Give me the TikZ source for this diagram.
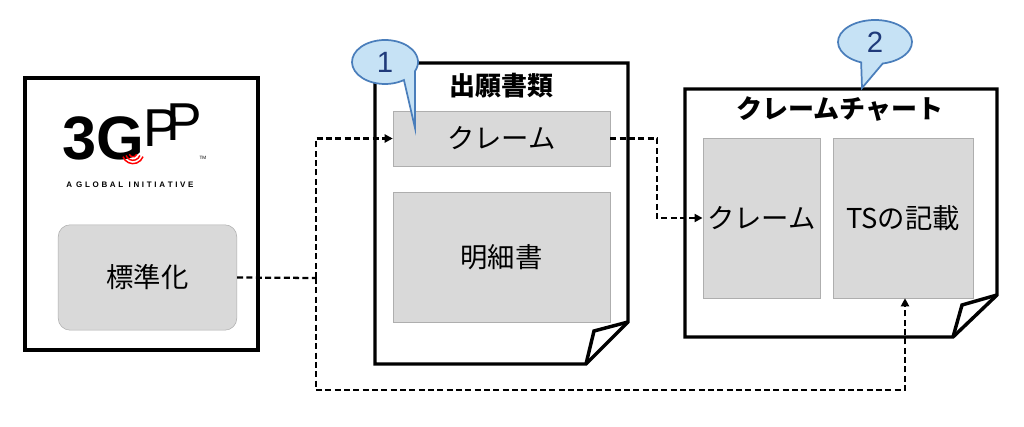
\documentclass[tikz,border=0pt]{standalone}
\usepackage{fontspec}
\setmainfont{Noto Sans CJK JP}
\newfontfamily\latinf{Liberation Sans}
\usetikzlibrary{arrows.meta}
\definecolor{boxgray}{HTML}{D9D9D9}
\definecolor{calfill}{HTML}{C6E2F5}
\definecolor{caldraw}{HTML}{4A7EBB}
\definecolor{calnum}{HTML}{1F3A7A}
\begin{document}
\begin{tikzpicture}[x=0.75pt,y=-0.75pt,
  frame/.style={line width=2.6pt,line join=miter,fill=white},
  gbox/.style={fill=boxgray,draw=boxgray!80!black,line width=0.4pt},
  lbl/.style={font=\fontsize{20.5}{24}\selectfont},
  ttl/.style={font=\fontsize{19.5}{23}\selectfont\bfseries},
  conn/.style={line width=1.7pt,dash pattern=on 4.5pt off 2.5pt},
  tip/.style={-{Triangle[length=6pt,width=6pt]}},
  callout/.style={fill=calfill,draw=caldraw,line width=1.3pt}]
\useasboundingbox (0,0) rectangle (1024,427);
% left box
\draw[frame] (25,78) rectangle (258,350);
\node[gbox,rounded corners=9pt,minimum width=134pt,minimum height=79pt,lbl] (std) at (147.5,277.5) {標準化};
% logo
\node[inner sep=0pt] (logo3g) at (103,138) {\fontsize{46}{46}\selectfont\bfseries\latinf 3G};
\node[inner sep=0pt,anchor=west] (logopp) at (143,125) {\fontsize{40}{40}\selectfont\latinf P\hspace{-9pt}\raisebox{5pt}{P}};
\node[font=\fontsize{3.5}{4}\selectfont\latinf] (tm) at (203,158) {TM};
\foreach \r in {3,5.5,8} \draw[red,line width=1.1pt] (133,153) ++(200:\r pt) arc[start angle=200,end angle=340,radius=\r pt];
\node[font=\fontsize{6}{7}\selectfont\bfseries\latinf] (glob) at (130,185) {A\,\,\,G\,\,L\,\,O\,\,B\,\,A\,\,L\,\,\,\,I\,\,N\,\,I\,\,T\,\,I\,\,A\,\,T\,\,I\,\,V\,\,E};
% doc 1
\draw[frame] (375,63) -- (628,63) -- (628,322) -- (586,364) -- (375,364) -- cycle;
\draw[line width=2.6pt,line join=miter] (628,322) -- (594,331) -- (586,364);
\node[ttl] (t1) at (501,86) {出願書類};
\node[gbox,minimum width=162.75pt,minimum height=41.25pt,lbl] (cl1) at (501.5,138.5) {クレーム};
\node[gbox,minimum width=162.75pt,minimum height=97.5pt,lbl] (spec) at (501.5,257) {明細書};
% doc 2
\draw[frame] (685,89) -- (997,89) -- (997,295) -- (953,337) -- (685,337) -- cycle;
\draw[line width=2.6pt,line join=miter] (997,295) -- (962,305) -- (953,337);
\node[ttl] (t2) at (840,109) {クレームチャート};
\node[gbox,minimum width=87.75pt,minimum height=120pt,lbl] (cl2) at (761.5,218) {クレーム};
\node[gbox,minimum width=105pt,minimum height=120pt,lbl] (ts) at (903,218) {TSの記載};
% connectors
\coordinate (j1) at (316,278);
\draw[conn] (std.east) -- (j1);
\draw[conn,tip] (j1) |- (cl1.west);
\coordinate (j2) at (316,390);
\coordinate (j3) at (905,390);
\draw[conn,tip] (j1) -- (j2) -- (j3) -- (ts.south -| j3);
\coordinate (j4) at (657,138.5);
\draw[conn,tip] (cl1.east) -- (j4) |- (cl2.west);
% callouts
\draw[callout] (385,62) ++(55:33 and 22) arc[start angle=55,end angle=385,x radius=33,y radius=22] -- (415,128) -- cycle;
\node[font=\fontsize{22}{24}\selectfont\latinf,text=calnum] (n1) at (385,62) {1};
\draw[callout] (875,42) ++(112:37 and 22) arc[start angle=112,end angle=438,x radius=37,y radius=22] -- (862,88) -- cycle;
\node[font=\fontsize{22}{24}\selectfont\latinf,text=calnum] (n2) at (875,42) {2};
\end{tikzpicture}
\end{document}
